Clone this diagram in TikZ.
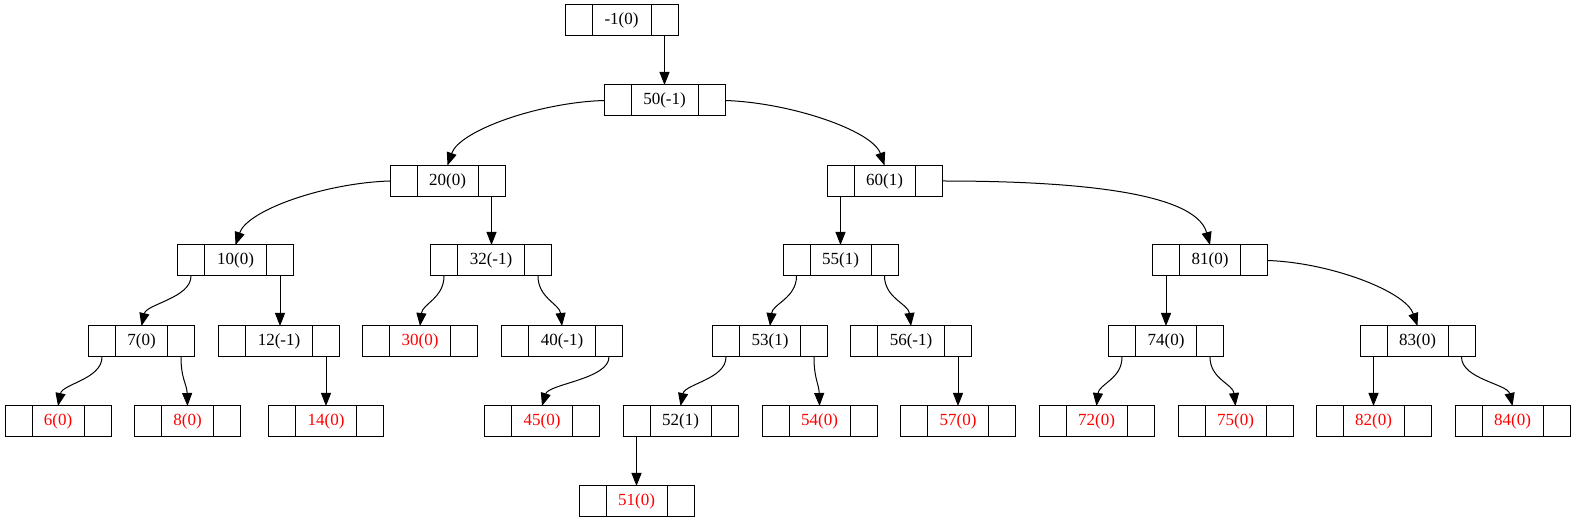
\documentclass[tikz,border=0pt]{standalone}
\usepackage{fontspec}
\setmainfont{Liberation Serif}
\usetikzlibrary{arrows.meta}
\tikzset{
  mid/.style={draw, line width=0.75pt, minimum height=23.25pt, inner sep=0pt, outer sep=0pt, font=\fontsize{12.75}{14}\selectfont},
  side/.style={draw, line width=0.75pt, minimum height=23.25pt, minimum width=20.25pt, inner sep=0pt, outer sep=0pt},
  edge/.style={line width=0.75pt, -{Triangle[length=9.75pt,width=7.5pt]}}
}
\newcommand{\rec}[5]{%
  \node[mid, minimum width=#4*0.75pt] (#1) at (#2,#3) {#5};
  \node[side, anchor=east] (#1L) at (#1.west) {};
  \node[side, anchor=west] (#1R) at (#1.east) {};
}
\newcommand{\lf}[1]{\textcolor{red}{#1}}
\begin{document}
\begin{tikzpicture}[x=0.75pt, y=-0.75pt]
\useasboundingbox (0,0) rectangle (1575,523);
% level 0
\rec{nm1}{621.5}{20.5}{59}{-1(0)}
% level 1
\rec{n50}{664.5}{100.5}{67}{50(-1)}
% level 2
\rec{n20}{447.5}{181}{61}{20(0)}
\rec{n60}{884.5}{181}{61}{60(1)}
% level 3
\rec{n10}{235.5}{260.5}{62}{10(0)}
\rec{n32}{491}{260.5}{67}{32(-1)}
\rec{n55}{840.5}{260.5}{61}{55(1)}
\rec{n81}{1210}{260.5}{61}{81(0)}
% level 4
\rec{n7}{141.5}{341.5}{52}{7(0)}
\rec{n12}{279}{341.5}{67}{12(-1)}
\rec{n30}{420}{341.5}{61}{\lf{30(0)}}
\rec{n40}{562}{341.5}{67}{40(-1)}
\rec{n53}{770}{341.5}{61}{53(1)}
\rec{n56}{911}{341.5}{67}{56(-1)}
\rec{n74}{1166}{341.5}{61}{74(0)}
\rec{n83}{1417.5}{341.5}{61}{83(0)}
% level 5
\rec{n6}{58}{421.5}{52}{\lf{6(0)}}
\rec{n8}{187.5}{421.5}{52}{\lf{8(0)}}
\rec{n14}{326}{421.5}{61}{\lf{14(0)}}
\rec{n45}{542}{421.5}{61}{\lf{45(0)}}
\rec{n52}{680.5}{421.5}{61}{52(1)}
\rec{n54}{819.5}{421.5}{61}{\lf{54(0)}}
\rec{n57}{958}{421.5}{61}{\lf{57(0)}}
\rec{n72}{1096.5}{421.5}{61}{\lf{72(0)}}
\rec{n75}{1235.5}{421.5}{61}{\lf{75(0)}}
\rec{n82}{1373.5}{421.5}{61}{\lf{82(0)}}
\rec{n84}{1512.5}{421.5}{61}{\lf{84(0)}}
% level 6
\rec{n51}{636.5}{501.5}{61}{\lf{51(0)}}

% straight edges
\draw[edge] (nm1R.south) -- (nm1R.south |- n50.north);
\draw[edge] (n20R.south) -- (n20R.south |- n32.north);
\draw[edge] (n60L.south) -- (n60L.south |- n55.north);
\draw[edge] (n10R.south) -- (n10R.south |- n12.north);
\draw[edge] (n12R.south) -- (n12R.south |- n14.north);
\draw[edge] (n56R.south) -- (n56R.south |- n57.north);
\draw[edge] (n52L.south) -- (n52L.south |- n51.north);
\draw[edge] (n81L.south) -- (n81L.south |- n74.north);
\draw[edge] (n83L.south) -- (n83L.south |- n82.north);

% long curved edges
\draw[edge] (n50L.west) .. controls +(-65,2) and +(12,-35) .. (n20.north);
\draw[edge] (n20L.west) .. controls +(-65,2) and +(12,-35) .. (n10.north);
\draw[edge] (n50R.east) .. controls +(65,2) and +(-12,-35) .. (n60.north);
\draw[edge] (n60R.east) .. controls +(120,0) and +(-15,-55) .. (n81.north);
\draw[edge] (n81R.east) .. controls +(62,2) and +(-12,-35) .. (n83.north);

% short curved edges
\draw[edge] (n10L.south) .. controls +(0,22) and +(5,-22) .. (n7.north);
\draw[edge] (n7L.south) .. controls +(0,22) and +(4.4,-22) .. (n6.north);
\draw[edge] (n7R.south) .. controls +(0,22) and +(-0.6,-22) .. (n8.north);
\draw[edge] (n32L.south) .. controls +(0,22) and +(2.4,-22) .. (n30.north);
\draw[edge] (n32R.south) .. controls +(0,22) and +(-2.4,-22) .. (n40.north);
\draw[edge] (n40R.south) .. controls +(0,22) and +(6.7,-22) .. (n45.north);
\draw[edge] (n55L.south) .. controls +(0,22) and +(2.6,-22) .. (n53.north);
\draw[edge] (n55R.south) .. controls +(0,22) and +(-2.6,-22) .. (n56.north);
\draw[edge] (n53L.south) .. controls +(0,22) and +(4.5,-22) .. (n52.north);
\draw[edge] (n53R.south) .. controls +(0,22) and +(-0.5,-22) .. (n54.north);
\draw[edge] (n74L.south) .. controls +(0,22) and +(2.5,-22) .. (n72.north);
\draw[edge] (n74R.south) .. controls +(0,22) and +(-2.5,-22) .. (n75.north);
\draw[edge] (n83R.south) .. controls +(0,22) and +(-5,-22) .. (n84.north);
\end{tikzpicture}
\end{document}
